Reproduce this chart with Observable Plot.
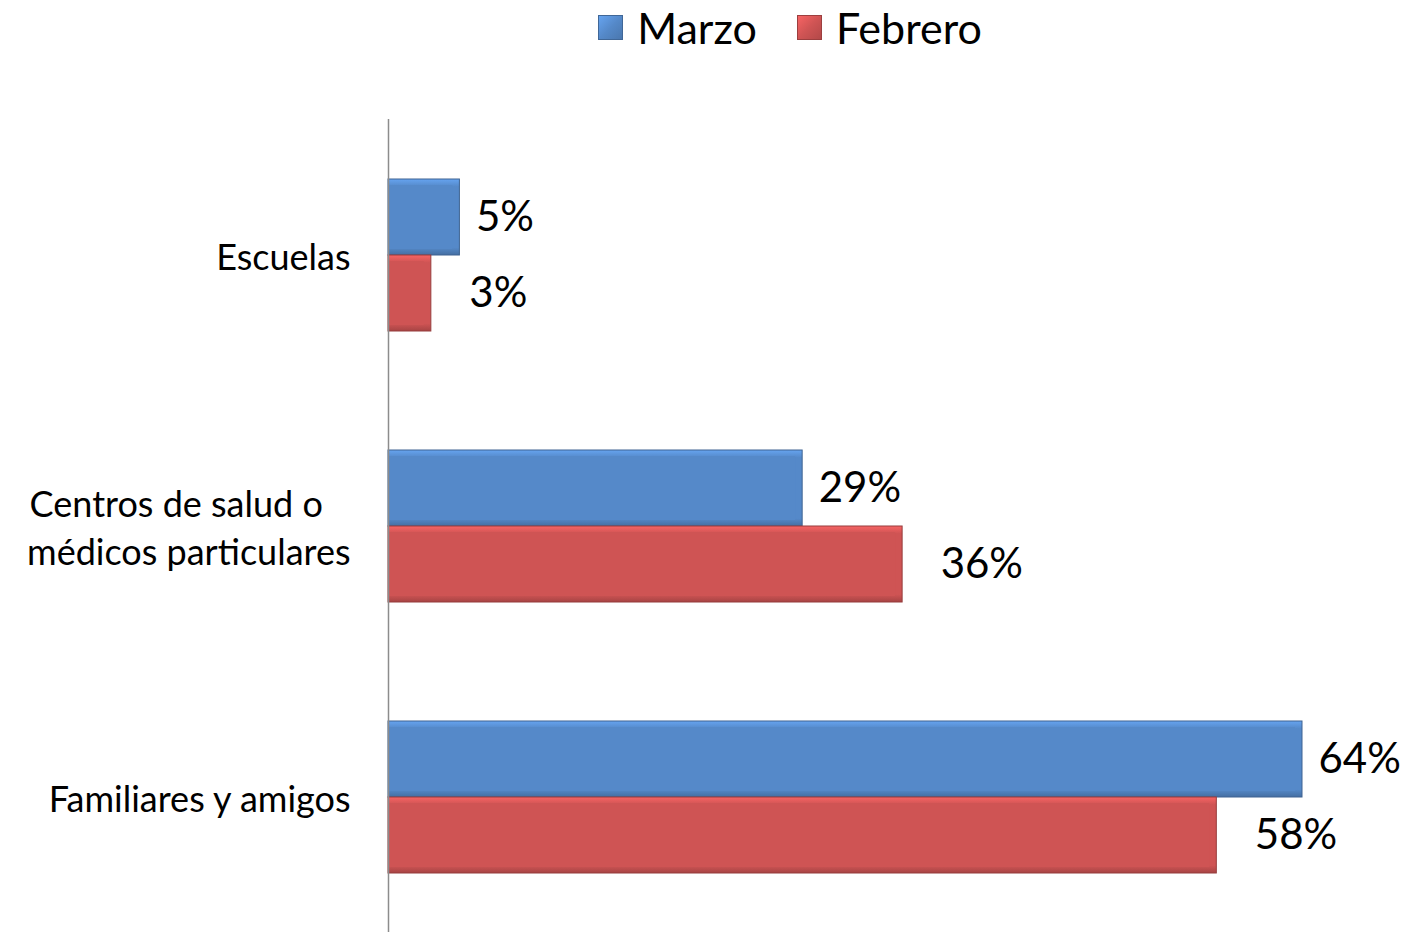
<!DOCTYPE html>
<html>
<head>
<meta charset="utf-8">
<script src="https://cdn.jsdelivr.net/npm/d3@7"></script>
<script src="https://cdn.jsdelivr.net/npm/@observablehq/plot@0.6"></script>
<style>
  body { margin: 0; background: #fff; font-family: Lato, "Open Sans", sans-serif; }
  #legend { height: 60px; display: flex; justify-content: center; align-items: center; font-size: 43px; color: #000; padding-left: 175px; padding-bottom: 6px; box-sizing: border-box; }
  .item { display: flex; align-items: center; margin: 0 20px; }
  .sw { width: 25px; height: 25px; margin-right: 14px; box-sizing: border-box; }
</style>
</head>
<body>
<div id="legend"></div>
<div id="chart"></div>
<script>
const categories = ["Escuelas", "Centros de salud o\u00a0\u00a0\u00a0\nmédicos particulares", "Familiares y amigos"];
const seriesNames = ["Marzo", "Febrero"];
const marzo = [5, 29, 64];
const febrero = [3, 36, 58];
const colors = ["#5589c9", "#cf5454"];

const data = [];
categories.forEach((c, i) => {
  data.push({cat: c, series: "Marzo", value: marzo[i]});
  data.push({cat: c, series: "Febrero", value: febrero[i]});
});

// legend
const leg = document.getElementById("legend");
seriesNames.forEach((s, i) => {
  const it = document.createElement("div");
  it.className = "item";
  const sw = document.createElement("div");
  sw.className = "sw";
  const base = colors[i];
  sw.style.background = `linear-gradient(135deg, ${d3.color(base).brighter(0.5)}, ${base} 50%, ${d3.color(base).darker(0.4)})`;
  sw.style.border = `1px solid ${d3.color(base).darker(0.8)}`;
  it.appendChild(sw);
  const t = document.createElement("span");
  t.textContent = s;
  it.appendChild(t);
  leg.appendChild(it);
});

const fontFamily = "Lato, 'Open Sans', sans-serif";
const mk = (s) => data.filter(d => d.series === s);

const chart = Plot.plot({
  width: 1405,
  height: 872,
  marginLeft: 388,
  marginRight: 103,
  marginTop: 59,
  marginBottom: 0,
  style: {fontFamily, color: "#000", background: "#fff"},
  x: {domain: [0, 64], axis: null},
  y: {domain: seriesNames, axis: null, paddingInner: 0, paddingOuter: 0.76},
  fy: {domain: categories, padding: 0, label: null},
  marks: [
    Plot.axisFy({anchor: "left", tickSize: 0, tickPadding: 38, fontSize: 36, label: null, lineHeight: 1.333, fill: "#000"}),
    Plot.barX(mk("Marzo"), {fy: "cat", y: "series", x: "value", fill: "url(#gradM)", stroke: d3.color(colors[0]).darker(0.9).formatHex(), strokeWidth: 1}),
    Plot.barX(mk("Febrero"), {fy: "cat", y: "series", x: "value", fill: "url(#gradF)", stroke: d3.color(colors[1]).darker(0.9).formatHex(), strokeWidth: 1}),
    Plot.barX(mk("Marzo"), {fy: "cat", y: "series", x: "value", fill: colors[0], insetTop: 6, insetBottom: 6, insetRight: 7}),
    Plot.barX(mk("Febrero"), {fy: "cat", y: "series", x: "value", fill: colors[1], insetTop: 6, insetBottom: 6, insetRight: 7}),
    Plot.ruleX([0], {stroke: "#8c8c8c", strokeWidth: 1.5}),
    Plot.text(mk("Marzo"), {fy: "cat", y: "series", x: "value", text: d => d.value + "%", dx: 16, textAnchor: "start", fontSize: 42, fill: "#000"}),
    Plot.text(mk("Febrero"), {fy: "cat", y: "series", x: "value", text: d => d.value + "%", dx: 38, textAnchor: "start", fontSize: 42, fill: "#000"})
  ]
});

const ns = "http://www.w3.org/2000/svg";
const defs = document.createElementNS(ns, "defs");
[["gradM", colors[0]], ["gradF", colors[1]]].forEach(([id, base]) => {
  const g = document.createElementNS(ns, "linearGradient");
  g.setAttribute("id", id);
  g.setAttribute("x1", "0"); g.setAttribute("y1", "0");
  g.setAttribute("x2", "0"); g.setAttribute("y2", "1");
  const stops = [[0, d3.color(base).brighter(0.5)], [0.1, base], [0.9, base], [1, d3.color(base).darker(0.6)]];
  stops.forEach(([o, c]) => {
    const s = document.createElementNS(ns, "stop");
    s.setAttribute("offset", o);
    s.setAttribute("stop-color", d3.color(c).formatHex());
    g.appendChild(s);
  });
  defs.appendChild(g);
});
chart.insertBefore(defs, chart.firstChild);
document.getElementById("chart").appendChild(chart);
</script>
</body>
</html>
